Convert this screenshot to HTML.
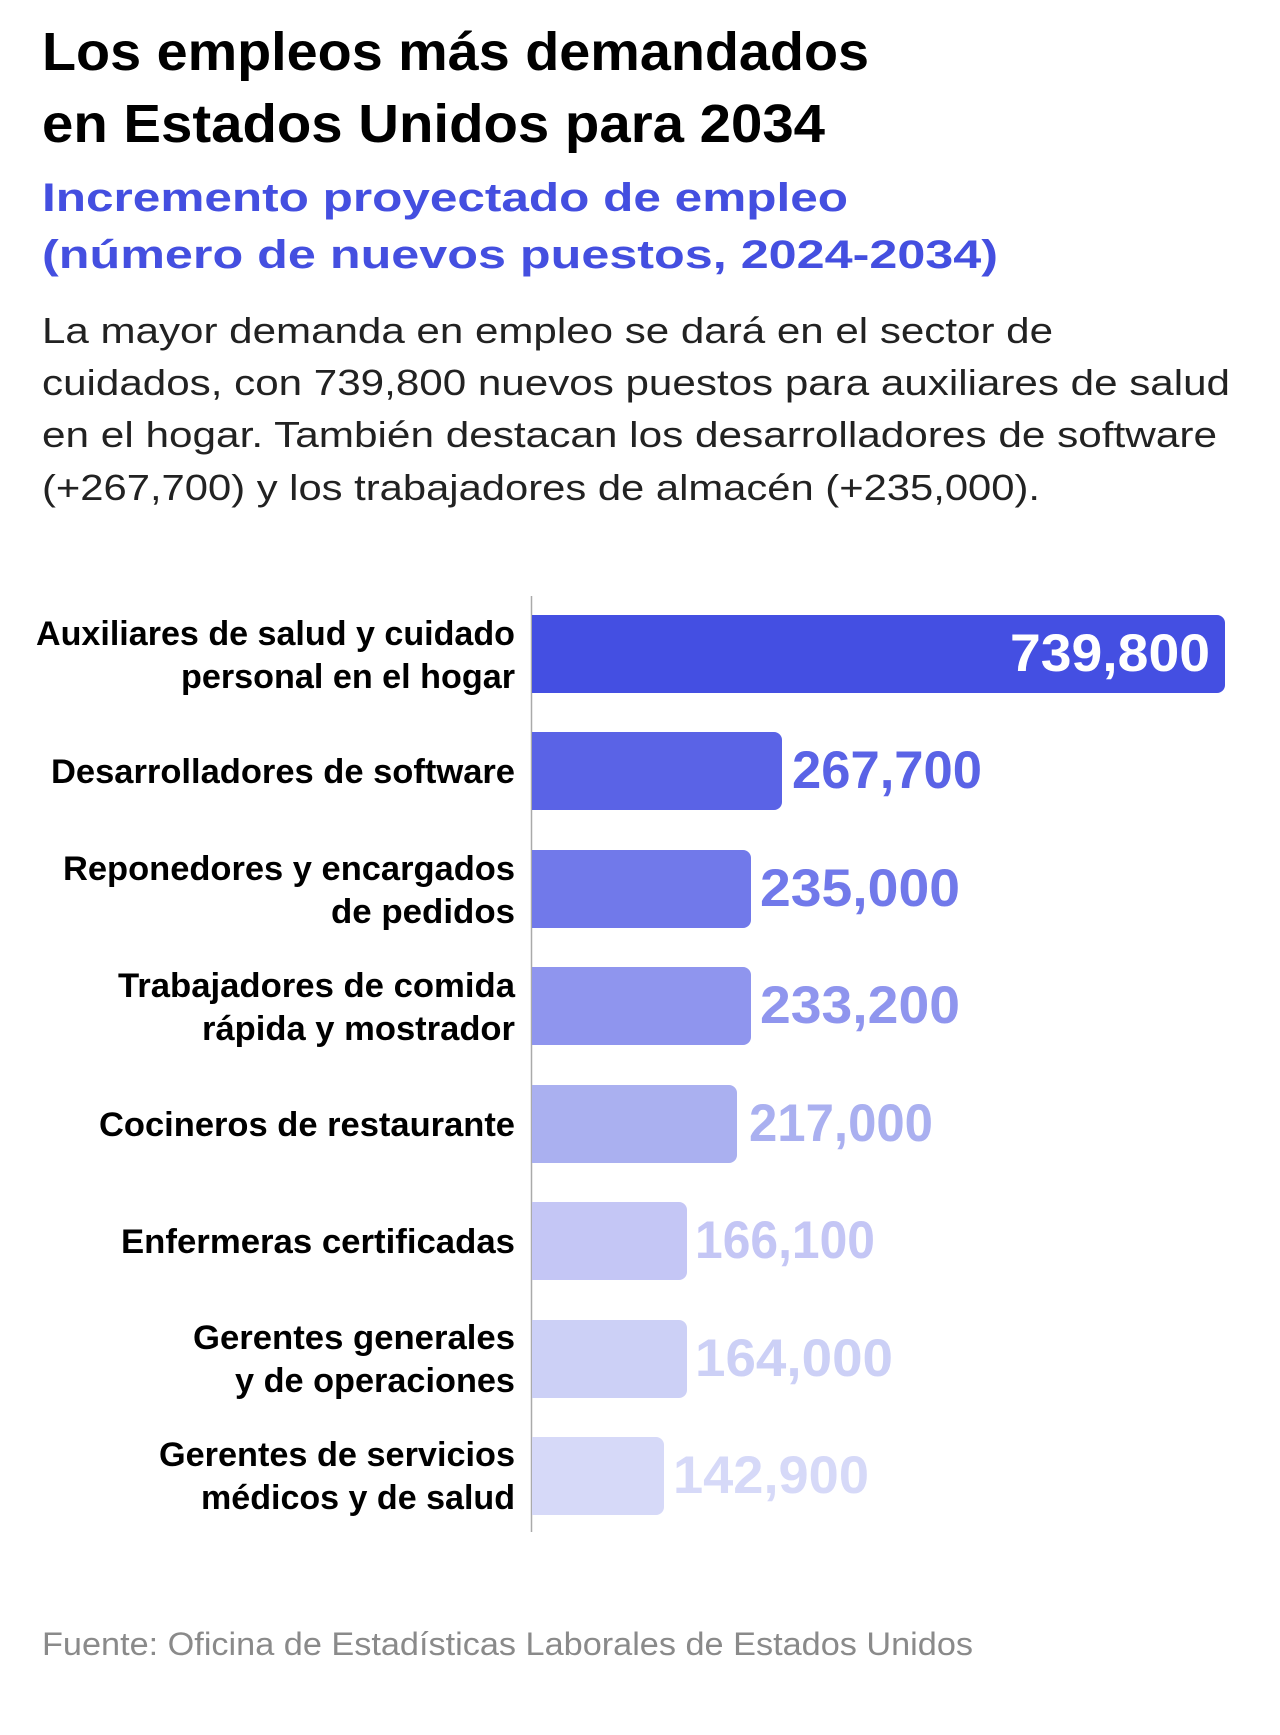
<!DOCTYPE html>
<html><head><meta charset="utf-8"><style>
html,body{margin:0;padding:0;background:#fff}
svg{display:block}
text{font-family:"Liberation Sans",sans-serif}
</style></head><body>
<svg width="1280" height="1735" viewBox="0 0 1280 1735" xmlns="http://www.w3.org/2000/svg">
<g font-weight="bold" fill="#000" font-size="54">
<text x="42" y="70" textLength="827" lengthAdjust="spacingAndGlyphs">Los empleos más demandados</text>
<text x="42" y="142" textLength="783" lengthAdjust="spacingAndGlyphs">en Estados Unidos para 2034</text>
</g>
<g font-weight="bold" fill="#444fe0" font-size="40">
<text x="42" y="211" textLength="806" lengthAdjust="spacingAndGlyphs">Incremento proyectado de empleo</text>
<text x="42" y="268" textLength="956" lengthAdjust="spacingAndGlyphs">(número de nuevos puestos, 2024-2034)</text>
</g>
<g fill="#222" font-size="36">
<text x="42" y="343" textLength="1011" lengthAdjust="spacingAndGlyphs">La mayor demanda en empleo se dará en el sector de</text>
<text x="42" y="395" textLength="1188" lengthAdjust="spacingAndGlyphs">cuidados, con 739,800 nuevos puestos para auxiliares de salud</text>
<text x="42" y="447" textLength="1175" lengthAdjust="spacingAndGlyphs">en el hogar. También destacan los desarrolladores de software</text>
<text x="42" y="500" textLength="998" lengthAdjust="spacingAndGlyphs">(+267,700) y los trabajadores de almacén (+235,000).</text>
</g>
<line x1="531.5" y1="596" x2="531.5" y2="1532" stroke="#aaa" stroke-width="1.5"/>
<g>
<path d="M532 615 H1217 a8 8 0 0 1 8 8 V685 a8 8 0 0 1 -8 8 H532Z" fill="#444fe2"/>
<path d="M532 732 H774 a8 8 0 0 1 8 8 V802 a8 8 0 0 1 -8 8 H532Z" fill="#5a63e6"/>
<path d="M532 850 H743 a8 8 0 0 1 8 8 V920 a8 8 0 0 1 -8 8 H532Z" fill="#7179ea"/>
<path d="M532 967 H743 a8 8 0 0 1 8 8 V1037 a8 8 0 0 1 -8 8 H532Z" fill="#8f95ee"/>
<path d="M532 1085 H729 a8 8 0 0 1 8 8 V1155 a8 8 0 0 1 -8 8 H532Z" fill="#aab0f0"/>
<path d="M532 1202 H679 a8 8 0 0 1 8 8 V1272 a8 8 0 0 1 -8 8 H532Z" fill="#c4c6f5"/>
<path d="M532 1320 H679 a8 8 0 0 1 8 8 V1390 a8 8 0 0 1 -8 8 H532Z" fill="#ccd0f6"/>
<path d="M532 1437 H656 a8 8 0 0 1 8 8 V1507 a8 8 0 0 1 -8 8 H532Z" fill="#d6d9f8"/>
</g>
<g font-weight="bold" font-size="53">
<text x="1210" y="671" text-anchor="end" fill="#fff" textLength="200" lengthAdjust="spacingAndGlyphs">739,800</text>
<text x="792" y="788" fill="#5a63e6" textLength="190" lengthAdjust="spacingAndGlyphs">267,700</text>
<text x="760" y="906" fill="#7179ea" textLength="200" lengthAdjust="spacingAndGlyphs">235,000</text>
<text x="760" y="1023" fill="#8f95ee" textLength="200" lengthAdjust="spacingAndGlyphs">233,200</text>
<text x="749" y="1141" fill="#aab0f0" textLength="184" lengthAdjust="spacingAndGlyphs">217,000</text>
<text x="695" y="1258" fill="#c4c6f5" textLength="180" lengthAdjust="spacingAndGlyphs">166,100</text>
<text x="695" y="1376" fill="#ccd0f6" textLength="198" lengthAdjust="spacingAndGlyphs">164,000</text>
<text x="673" y="1493" fill="#d6d9f8" textLength="196" lengthAdjust="spacingAndGlyphs">142,900</text>
</g>
<g font-weight="bold" font-size="34" fill="#000" text-anchor="end">
<text x="515" y="645" textLength="479" lengthAdjust="spacingAndGlyphs">Auxiliares de salud y cuidado</text>
<text x="515" y="688" textLength="334" lengthAdjust="spacingAndGlyphs">personal en el hogar</text>
<text x="515" y="783" textLength="464" lengthAdjust="spacingAndGlyphs">Desarrolladores de software</text>
<text x="515" y="880" textLength="452" lengthAdjust="spacingAndGlyphs">Reponedores y encargados</text>
<text x="515" y="923" textLength="184" lengthAdjust="spacingAndGlyphs">de pedidos</text>
<text x="515" y="997" textLength="397" lengthAdjust="spacingAndGlyphs">Trabajadores de comida</text>
<text x="515" y="1040" textLength="313" lengthAdjust="spacingAndGlyphs">rápida y mostrador</text>
<text x="515" y="1136" textLength="416" lengthAdjust="spacingAndGlyphs">Cocineros de restaurante</text>
<text x="515" y="1253" textLength="394" lengthAdjust="spacingAndGlyphs">Enfermeras certificadas</text>
<text x="515" y="1349" textLength="322" lengthAdjust="spacingAndGlyphs">Gerentes generales</text>
<text x="515" y="1392" textLength="280" lengthAdjust="spacingAndGlyphs">y de operaciones</text>
<text x="515" y="1466" textLength="356" lengthAdjust="spacingAndGlyphs">Gerentes de servicios</text>
<text x="515" y="1509" textLength="314" lengthAdjust="spacingAndGlyphs">médicos y de salud</text>
</g>
<text x="42" y="1655" font-size="32" fill="#8a8a8a" textLength="931" lengthAdjust="spacingAndGlyphs">Fuente: Oficina de Estadísticas Laborales de Estados Unidos</text>
</svg>
</body></html>
